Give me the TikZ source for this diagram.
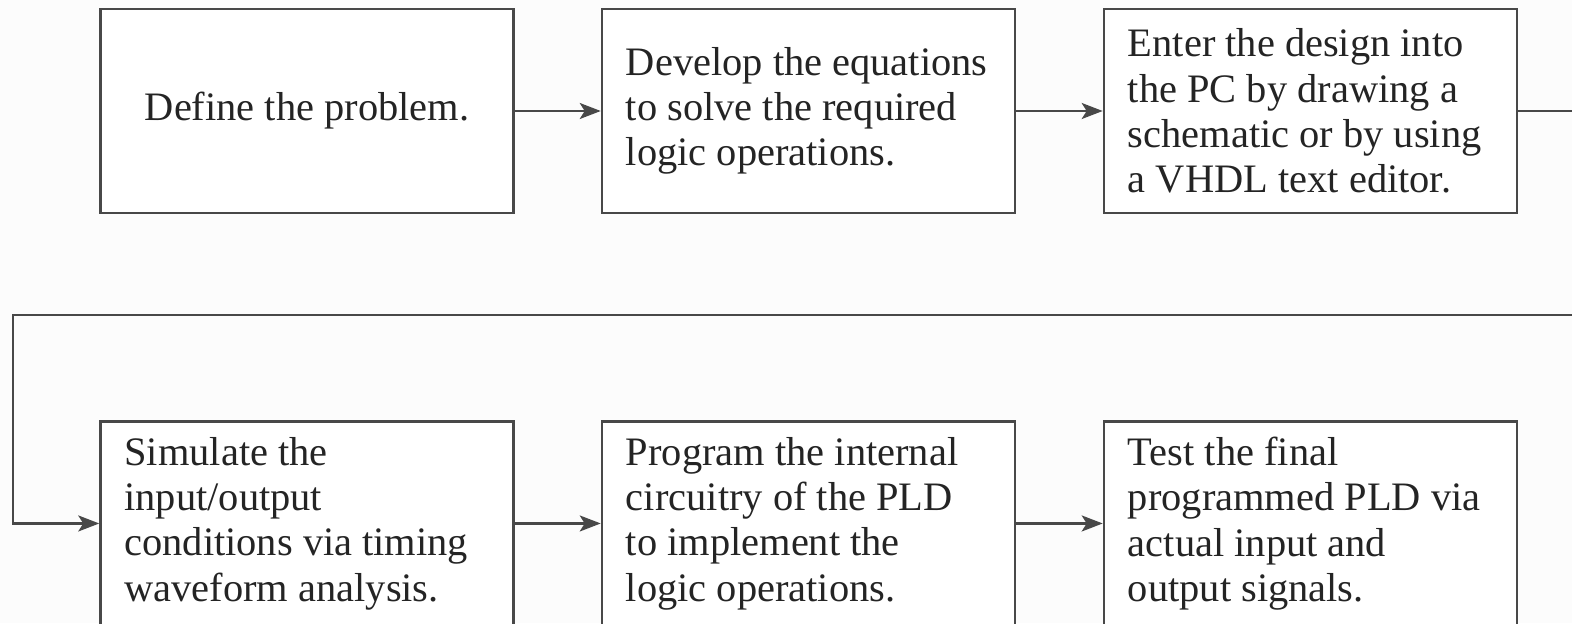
\documentclass[tikz,border=0pt]{standalone}
\usepackage{fontspec}
\setmainfont{Liberation Serif}
\usetikzlibrary{positioning}
\usetikzlibrary{arrows.meta}
\definecolor{linie}{RGB}{72,72,72}
\definecolor{schrift}{RGB}{36,36,36}
\definecolor{hintergrund}{RGB}{252,252,252}

\begin{document}
\begin{tikzpicture}[
    schritt/.style = {draw=linie, line width=1.4pt, fill=white,
        minimum width=8.26cm, minimum height=4.08cm, inner xsep=0.48cm,
        text width=7.3cm, align=flush left, text=schrift,
        font=\fontsize{23}{25.8}\selectfont},
    pfeil/.style = {draw=linie, line width=1.4pt,
        -{Stealth[length=0.42cm, width=0.32cm, inset=0.1cm]}}
]

    \useasboundingbox (0,0) rectangle (31.44,12.46);
    \clip (0,0) rectangle (31.44,12.46);
    \fill[hintergrund] (0,0) rectangle (31.44,12.46);

    % obere Reihe
    \node[schritt, align=flush center] (define) at (6.14,10.24) {Define the problem.};
    \node[schritt, right=1.72cm of define] (develop) {Develop the equations\\to solve the required\\logic operations.};
    \node[schritt, right=1.73cm of develop] (enter) {Enter the design into\\the PC by drawing a\\schematic or by using\\a VHDL text editor.};

    % untere Reihe
    \node[schritt, below=4.12cm of define] (simulate) {Simulate the\\input/output\\conditions via timing\\waveform analysis.};
    \node[schritt, below=4.12cm of develop] (program) {Program the internal\\circuitry of the PLD\\to implement the\\logic operations.};
    \node[schritt, below=4.12cm of enter] (test) {Test the final\\programmed PLD via\\actual input and\\output signals.};

    \draw[pfeil] (define) -- (develop);
    \draw[pfeil] (develop) -- (enter);

    % Rueckfuehrung (rechts abgeschnitten)
    \coordinate (rueckr) at (32.2,6.16);
    \coordinate (rueckl) at (0.26,6.16);
    \draw[pfeil] (enter.east) -| (rueckr) -- (rueckl) |- (simulate.west);

    \draw[pfeil] (simulate) -- (program);
    \draw[pfeil] (program) -- (test);

\end{tikzpicture}
\end{document}
